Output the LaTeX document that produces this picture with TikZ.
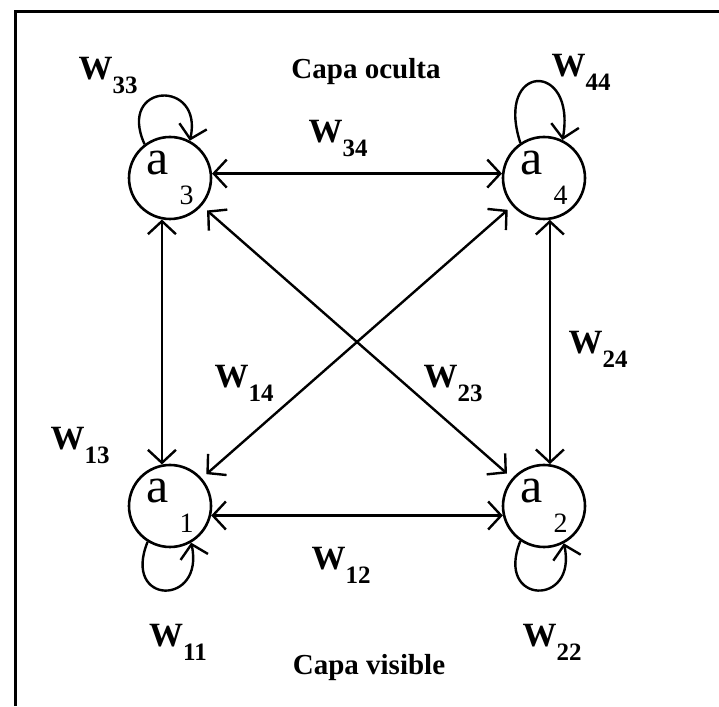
\documentclass[tikz,border=0pt]{standalone}
\usepackage{fontspec}
\setmainfont{Liberation Serif}
\usetikzlibrary{arrows.meta}
\newcommand{\wsub}[1]{W\raisebox{-14pt}{\fontsize{25}{25}\selectfont #1}}
\newcommand{\asub}[1]{a\hspace{11pt}\raisebox{-30pt}{\fontsize{28}{28}\selectfont #1}}

\begin{document}
\begin{tikzpicture}[x=1pt,y=1pt,
  neuron/.style={draw,circle,line width=2.6pt,minimum size=82pt,inner sep=0pt,
    font=\fontsize{50}{50}\selectfont},
  wlabel/.style={font=\fontsize{34}{34}\selectfont\bfseries},
  layer/.style={font=\fontsize{29}{29}\selectfont\bfseries},
  arr/.style={{Straight Barb[length=13pt,width=28pt]}-{Straight Barb[length=13pt,width=28pt]},line width=2.4pt},
  selfarr/.style={-{Straight Barb[length=13pt,width=28pt]},line width=2.4pt}
]
  \useasboundingbox (0,0) rectangle (719,706);
  % frame, top and left only
  \draw[line width=3pt] (15,0) -- (15,694) -- (719,694);
  \node[neuron] (a3) at (170,528) {\asub{3}};
  \node[neuron] (a4) at (544,528) {\asub{4}};
  \node[neuron] (a1) at (170,200) {\asub{1}};
  \node[neuron] (a2) at (544,200) {\asub{2}};
  \draw[arr] (a3.6) -- (a4.174);
  \draw[arr] (a1.-13) -- (a2.193);
  \draw[arr] (a3.259) -- (a1.101);
  \draw[arr] (a4.278) -- (a2.82);
  \draw[arr,shorten <=7pt,shorten >=7pt] (a3) -- (a2);
  \draw[arr,shorten <=6pt,shorten >=6pt] (a1) -- (a4);
  % self connections
  \draw[selfarr] (a3.127) .. controls +(-28,62) and +(14,62) .. (a3.62);
  \draw[selfarr] (a4.124) .. controls +(-26,80) and +(14,80) .. (a4.64);
  \draw[selfarr] (a1.238) .. controls +(-26,-64) and +(14,-64) .. (a1.-60);
  \draw[selfarr] (a2.236) .. controls +(-26,-64) and +(14,-64) .. (a2.-62);
  % weights
  \node[wlabel] (w33) at (108,630) {\wsub{33}};
  \node[wlabel] (w44) at (581,634) {\wsub{44}};
  \node[wlabel] (w34) at (338,568) {\wsub{34}};
  \node[wlabel] (w13) at (80,261) {\wsub{13}};
  \node[wlabel] (w14) at (244,323) {\wsub{14}};
  \node[wlabel] (w23) at (453,323) {\wsub{23}};
  \node[wlabel] (w24) at (598,357) {\wsub{24}};
  \node[wlabel] (w12) at (341,141) {\wsub{12}};
  \node[wlabel] (w11) at (178,64) {\wsub{11}};
  \node[wlabel] (w22) at (552,64) {\wsub{22}};
  \node[layer] (oculta) at (366,634) {Capa oculta};
  \node[layer] (visible) at (369,38) {Capa visible};
\end{tikzpicture}
\end{document}
